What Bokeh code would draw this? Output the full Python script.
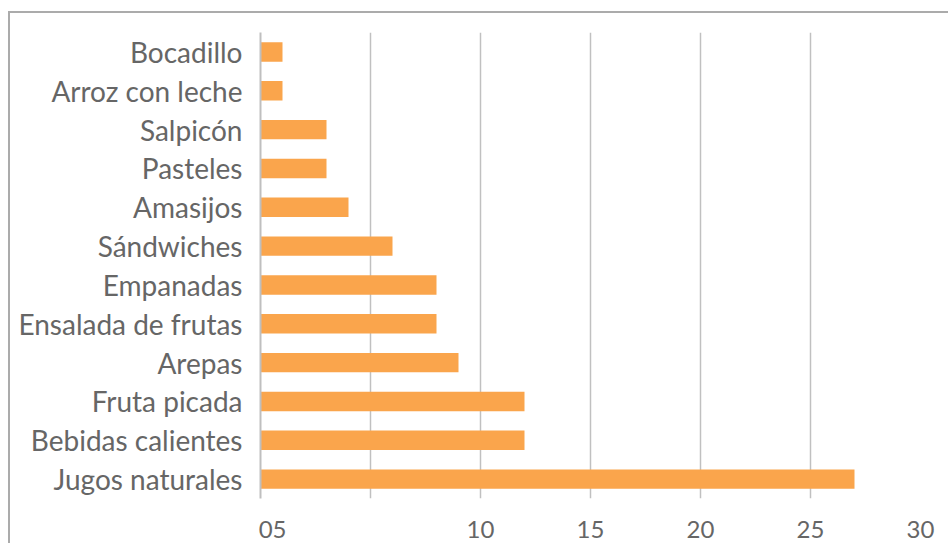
from bokeh.plotting import figure
from bokeh.models import FixedTicker, Range1d, FactorRange, ColumnDataSource
from bokeh.embed import file_html
from bokeh.resources import INLINE

categories = ["Bocadillo", "Arroz con leche", "Salpicón", "Pasteles", "Amasijos",
              "Sándwiches", "Empanadas", "Ensalada de frutas", "Arepas",
              "Fruta picada", "Bebidas calientes", "Jugos naturales"]
values = [1, 1, 3, 3, 4, 6, 8, 8, 9, 12, 12, 27]
grid_ticks = [5, 10, 15, 20, 25, 30]
label_ticks = [0.55, 10, 15, 20, 25, 30]
tick_labels = ["05", "10", "15", "20", "25", "30"]

FONT = "Lato"
TXT = "#666666"

src = ColumnDataSource(dict(cat=categories, val=values))

p = figure(y_range=FactorRange(factors=list(reversed(categories))),
           x_range=Range1d(0, 30),
           width=938, height=530,
           frame_width=660, frame_height=466,
           min_border_left=250, min_border_right=28,
           min_border_top=19, min_border_bottom=45,
           output_backend="svg", toolbar_location=None)
p.styles = {"margin-top": "11px", "margin-left": "8px",
            "border-left": "2px solid #ababab",
            "border-top": "2px solid #ababab"}

p.hbar(y="cat", right="val", left=0, height=0.5, source=src,
       fill_color="#FAA54C", line_color=None)

p.outline_line_color = None
p.ygrid.grid_line_color = None
p.xgrid.ticker = FixedTicker(ticks=grid_ticks)
p.xgrid.grid_line_color = "#c0c0c0"
p.xgrid.grid_line_width = 1.5

xa = p.xaxis[0]
xa.ticker = FixedTicker(ticks=label_ticks)
xa.major_label_overrides = {t: l for t, l in zip(label_ticks, tick_labels)}
xa.axis_line_color = None
xa.major_tick_line_color = None
xa.minor_tick_line_color = None
xa.major_label_text_font = FONT
xa.major_label_text_font_size = "24px"
xa.major_label_text_color = TXT
xa.major_label_text_font_style = "normal"
xa.major_label_standoff = 16

ya = p.yaxis[0]
ya.axis_line_color = "#bfbfbf"
ya.axis_line_width = 2
ya.major_tick_line_color = None
ya.minor_tick_line_color = None
ya.major_label_text_font = FONT
ya.major_label_text_font_size = "28px"
ya.major_label_text_color = TXT
ya.major_label_standoff = 12

open("out.html", "w").write(file_html(p, INLINE))
